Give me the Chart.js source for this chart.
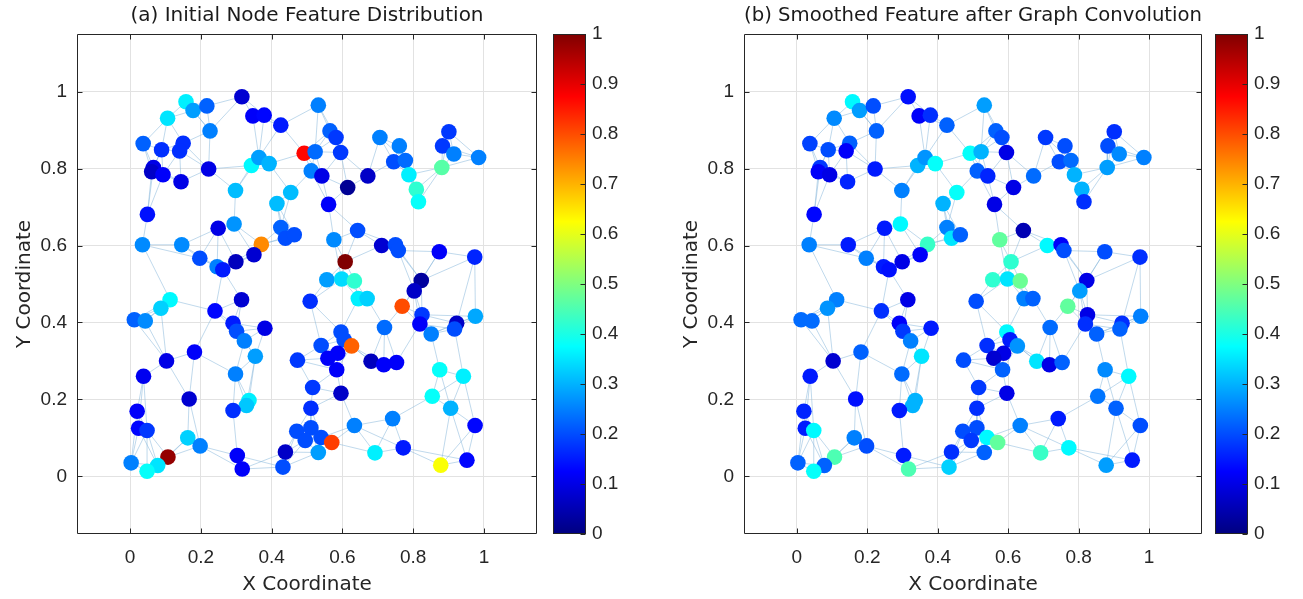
<!DOCTYPE html>
<html><head><meta charset="utf-8">
<script src="https://cdn.jsdelivr.net/npm/chart.js@4.4.1/dist/chart.umd.min.js"></script>
<style>
html,body{margin:0;padding:0;background:#fff;width:1303px;height:599px;overflow:hidden}
.box{position:absolute;top:0;height:599px}
</style></head><body>
<div class="box" style="left:0;width:545px"><canvas id="plotA"></canvas></div>
<div class="box" style="left:553px;width:70px"><canvas id="barA"></canvas></div>
<div class="box" style="left:667px;width:543px"><canvas id="plotB"></canvas></div>
<div class="box" style="left:1215px;width:70px"><canvas id="barB"></canvas></div>
<script>
// ---------------- data ----------------
const nodeX = [
0.158,0.178,0.217,0.316,0.106,0.347,0.379,0.426,0.226,0.037,
0.089,0.150,0.140,0.492,0.066,0.061,0.093,0.144,0.222,0.343,
0.364,0.393,0.298,0.454,0.415,0.049,0.294,0.249,0.426,0.439,
0.464,0.035,0.146,0.371,0.197,0.299,0.350,0.246,0.262,
0.532,0.565,0.582,0.523,0.595,0.512,0.542,0.615,0.672,0.706,
0.761,0.745,0.778,0.901,0.883,0.915,0.985,0.881,0.788,0.809,
0.815,0.561,0.643,0.576,0.711,0.750,0.758,0.874,0.974,0.608,
0.556,0.598,0.634,0.823,
0.113,0.087,0.012,0.043,0.315,0.240,0.291,0.301,0.381,0.323,
0.354,0.473,0.182,0.103,0.038,0.298,0.167,0.336,0.329,0.291,
0.020,0.024,0.048,0.163,0.198,0.471,0.107,0.003,0.078,0.048,
0.303,0.317,0.439,0.432,
0.509,0.645,0.670,0.769,0.803,0.825,0.819,0.923,0.917,0.976,
0.851,0.719,0.596,0.605,0.626,0.540,0.587,0.559,0.584,0.681,
0.717,0.753,0.875,0.942,0.516,0.596,0.854,0.906,0.511,0.742,
0.634,0.975,0.511,0.495,0.540,0.570,0.532,0.692,0.772,0.878,0.952
];
const nodeY = [
0.974,0.951,0.963,0.987,0.931,0.937,0.939,0.913,0.898,0.865,
0.849,0.866,0.846,0.840,0.803,0.792,0.784,0.766,0.799,0.808,
0.829,0.813,0.743,0.738,0.709,0.681,0.656,0.645,0.647,0.619,
0.628,0.602,0.602,0.603,0.567,0.558,0.576,0.545,0.537,
0.965,0.898,0.881,0.844,0.842,0.794,0.781,0.751,0.781,0.881,
0.859,0.818,0.821,0.896,0.859,0.838,0.829,0.803,0.784,0.746,
0.714,0.707,0.639,0.615,0.600,0.602,0.587,0.584,0.570,0.558,
0.511,0.513,0.508,0.509,
0.459,0.437,0.407,0.404,0.459,0.430,0.398,0.377,0.385,0.352,
0.312,0.302,0.323,0.300,0.260,0.266,0.201,0.197,0.184,0.171,
0.169,0.125,0.119,0.100,0.079,0.117,0.050,0.035,0.028,0.013,
0.054,0.019,0.063,0.024,
0.455,0.462,0.462,0.442,0.482,0.420,0.396,0.398,0.383,0.416,
0.370,0.387,0.375,0.355,0.339,0.340,0.320,0.307,0.277,0.299,
0.290,0.296,0.277,0.260,0.231,0.216,0.208,0.177,0.177,0.150,
0.132,0.132,0.126,0.093,0.101,0.088,0.062,0.061,0.074,0.029,0.042
];
const initialFeature = [
0.36,0.28,0.22,0.08,0.35,0.12,0.13,0.15,0.25,0.22,
0.17,0.17,0.17,0.87,0.10,0.07,0.12,0.10,0.10,0.37,
0.28,0.30,0.31,0.31,0.31,0.14,0.27,0.10,0.22,0.20,
0.20,0.26,0.26,0.74,0.20,0.06,0.08,0.25,0.15,
0.25,0.22,0.18,0.23,0.18,0.25,0.10,0.02,0.07,0.25,
0.25,0.20,0.23,0.18,0.18,0.25,0.25,0.46,0.36,0.42,
0.38,0.12,0.20,0.26,0.08,0.20,0.20,0.12,0.16,1.00,
0.28,0.34,0.42,0.03,
0.37,0.33,0.22,0.26,0.08,0.13,0.15,0.20,0.10,0.25,
0.28,0.18,0.12,0.10,0.11,0.25,0.08,0.36,0.32,0.17,
0.12,0.13,0.18,0.33,0.25,0.20,0.98,0.25,0.35,0.38,
0.12,0.12,0.07,0.20,
0.17,0.36,0.33,0.80,0.07,0.18,0.12,0.07,0.20,0.29,
0.25,0.23,0.20,0.20,0.78,0.20,0.12,0.12,0.12,0.06,
0.12,0.12,0.38,0.36,0.18,0.07,0.38,0.30,0.17,0.25,
0.25,0.13,0.20,0.20,0.20,0.815,0.28,0.36,0.15,0.62,0.13
];
const smoothedFeature = [
0.37,0.28,0.20,0.14,0.26,0.12,0.17,0.22,0.22,0.19,
0.20,0.22,0.12,0.38,0.18,0.12,0.10,0.16,0.15,0.30,
0.27,0.38,0.25,0.38,0.30,0.13,0.37,0.15,0.25,0.35,
0.22,0.25,0.15,0.43,0.25,0.10,0.12,0.15,0.14,
0.28,0.22,0.20,0.30,0.10,0.22,0.16,0.10,0.23,0.18,
0.20,0.20,0.23,0.17,0.20,0.26,0.25,0.28,0.30,0.30,
0.17,0.10,0.05,0.47,0.37,0.12,0.20,0.20,0.17,0.42,
0.42,0.35,0.48,0.10,
0.25,0.27,0.23,0.23,0.10,0.17,0.12,0.18,0.15,0.25,
0.35,0.20,0.22,0.08,0.15,0.23,0.14,0.30,0.30,0.15,
0.16,0.15,0.37,0.25,0.20,0.20,0.45,0.22,0.22,0.38,
0.15,0.45,0.17,0.33,
0.20,0.25,0.22,0.47,0.28,0.10,0.17,0.17,0.22,0.25,
0.22,0.23,0.37,0.15,0.27,0.17,0.10,0.08,0.22,0.35,
0.10,0.22,0.26,0.37,0.18,0.10,0.24,0.22,0.17,0.15,
0.25,0.20,0.20,0.18,0.37,0.47,0.22,0.43,0.37,0.28,0.15
];
const axisTicks = [0, 0.2, 0.4, 0.6, 0.8, 1];
const axisTickLabels = ['0', '0.2', '0.4', '0.6', '0.8', '1'];
const colorbarTicks = [0, 0.1, 0.2, 0.3, 0.4, 0.5, 0.6, 0.7, 0.8, 0.9, 1];
const colorbarTickLabels = ['0', '0.1', '0.2', '0.3', '0.4', '0.5', '0.6', '0.7', '0.8', '0.9', '1'];
const plotTitles = ['(a) Initial Node Feature Distribution', '(b) Smoothed Feature after Graph Convolution'];
const xAxisTitle = 'X Coordinate';
const yAxisTitle = 'Y Coordinate';
const K_NEIGHBORS = 4;

// ---------------- helpers ----------------
Chart.defaults.animation = false;
Chart.defaults.devicePixelRatio = 1;
const INK = '#262626';
const TICK_FONT = {family: "'Liberation Sans', Arial, sans-serif", size: 19};
const TITLE_FONT = {family: "'DejaVu Sans', sans-serif", size: 20, weight: 'normal', lineHeight: 1.2};
const clamp01 = v => Math.max(0, Math.min(1, v));
function jet(v) {
  const r = clamp01(1.5 - Math.abs(4 * v - 3));
  const g = clamp01(1.5 - Math.abs(4 * v - 2));
  const b = clamp01(1.5 - Math.abs(4 * v - 1));
  return `rgb(${Math.round(r * 255)},${Math.round(g * 255)},${Math.round(b * 255)})`;
}
const jetStops = [0, 0.125, 0.375, 0.625, 0.875, 1];

function buildEdges() {
  const seen = new Set(), segs = [];
  for (let i = 0; i < nodeX.length; i++) {
    const d = [];
    for (let j = 0; j < nodeX.length; j++) {
      if (j !== i) d.push([Math.hypot(nodeX[i] - nodeX[j], nodeY[i] - nodeY[j]), j]);
    }
    d.sort((a, b) => a[0] - b[0]);
    for (let k = 0; k < K_NEIGHBORS; k++) {
      const j = d[k][1];
      const key = Math.min(i, j) + '-' + Math.max(i, j);
      if (seen.has(key)) continue;
      seen.add(key);
      segs.push({x: nodeX[i], y: nodeY[i]}, {x: nodeX[j], y: nodeY[j]}, {x: null, y: null});
    }
  }
  return segs;
}
const edgeSegments = buildEdges();

const framePlugin = {
  id: 'frame',
  afterDraw(chart) {
    const {ctx, chartArea: a, scales: {x, y}} = chart;
    const L = Math.round(a.left) + 0.5, R = Math.round(a.right) - 0.5;
    const T = Math.round(a.top) + 0.5, B = Math.round(a.bottom) - 0.5;
    ctx.save();
    ctx.strokeStyle = INK; ctx.lineWidth = 1;
    ctx.beginPath();
    ctx.rect(L, T, R - L, B - T);
    for (const t of x.ticks) {
      const px = Math.round(x.getPixelForValue(t.value)) + 0.5;
      ctx.moveTo(px, B); ctx.lineTo(px, B - 5);
      ctx.moveTo(px, T); ctx.lineTo(px, T + 5);
    }
    for (const t of y.ticks) {
      const py = Math.round(y.getPixelForValue(t.value)) + 0.5;
      ctx.moveTo(L, py); ctx.lineTo(L + 5, py);
      ctx.moveTo(R, py); ctx.lineTo(R - 5, py);
    }
    ctx.stroke();
    ctx.restore();
  }
};

function makePlot(id, title, feature) {
  const axis = (isX) => ({
    type: 'linear', min: -0.15, max: 1.15,
    position: isX ? 'bottom' : 'left',
    afterBuildTicks: s => { s.ticks = axisTicks.map(v => ({value: v})); },
    afterFit: s => { if (isX) s.height = 65; else s.width = 77; },
    ticks: {font: TICK_FONT, color: INK, padding: isX ? 12 : 10,
            callback: (v, i) => axisTickLabels[i]},
    grid: {color: '#e2e2e2', lineWidth: 1, drawTicks: false},
    border: {display: false},
    title: {display: true, text: isX ? xAxisTitle : yAxisTitle, font: TITLE_FONT, color: INK,
            padding: isX ? {top: 0, bottom: 2} : {top: 13, bottom: 0}}
  });
  return new Chart(document.getElementById(id), {
    type: 'scatter',
    data: {datasets: [
      {
        label: 'nodes', order: 1,
        data: nodeX.map((x, i) => ({x, y: nodeY[i]})),
        pointRadius: 7.8, pointHoverRadius: 7.8, pointBorderWidth: 0,
        pointBackgroundColor: feature.map(jet), pointBorderColor: feature.map(jet)
      },
      {
        label: 'edges', order: 2, showLine: true, spanGaps: false,
        data: edgeSegments, pointRadius: 0, pointHoverRadius: 0,
        borderColor: 'rgba(140,185,220,0.55)', borderWidth: 1
      }
    ]},
    options: {
      responsive: true, maintainAspectRatio: false, events: [],
      layout: {padding: {top: 0, left: 0, right: 8, bottom: 0}},
      plugins: {
        legend: {display: false}, tooltip: {enabled: false},
        title: {display: true, text: title, fullSize: false, font: TITLE_FONT, color: '#1a1a1a',
                padding: {top: 4, bottom: 6}}
      },
      scales: {x: axis(true), y: axis(false)}
    },
    plugins: [framePlugin]
  });
}

const colorbarPlugin = {
  id: 'colorbar',
  beforeDatasetsDraw(chart) {
    const {ctx, chartArea: a, scales: {y}} = chart;
    const g = ctx.createLinearGradient(0, y.getPixelForValue(0), 0, y.getPixelForValue(1));
    jetStops.forEach(s => g.addColorStop(s, jet(s)));
    ctx.save();
    ctx.fillStyle = g;
    ctx.fillRect(a.left, a.top, a.right - a.left, a.bottom - a.top);
    const L = Math.round(a.left) + 0.5, R = Math.round(a.right) - 0.5;
    const T = Math.round(a.top) + 0.5, B = Math.round(a.bottom) - 0.5;
    ctx.strokeStyle = INK; ctx.lineWidth = 1;
    ctx.beginPath();
    ctx.rect(L, T, R - L, B - T);
    for (const t of y.ticks) {
      const py = Math.round(y.getPixelForValue(t.value)) + 0.5;
      ctx.moveTo(R, py); ctx.lineTo(R - 5, py);
    }
    ctx.stroke();
    ctx.restore();
  }
};

function makeColorbar(id) {
  return new Chart(document.getElementById(id), {
    type: 'scatter',
    data: {datasets: []},
    options: {
      responsive: true, maintainAspectRatio: false, events: [],
      layout: {padding: {top: 34, bottom: 65, left: 0, right: 0}},
      plugins: {legend: {display: false}, tooltip: {enabled: false}},
      scales: {
        x: {display: false, min: 0, max: 1},
        y: {
          type: 'linear', position: 'right', min: 0, max: 1,
          afterBuildTicks: s => { s.ticks = colorbarTicks.map(v => ({value: v})); },
          afterFit: s => { s.width = 37; },
          ticks: {font: TICK_FONT, color: INK, padding: 6, callback: (v, i) => colorbarTickLabels[i]},
          grid: {display: false, drawTicks: false},
          border: {display: false}
        }
      }
    },
    plugins: [colorbarPlugin]
  });
}

makePlot('plotA', plotTitles[0], initialFeature);
makeColorbar('barA');
makePlot('plotB', plotTitles[1], smoothedFeature);
makeColorbar('barB');
</script>
</body></html>
